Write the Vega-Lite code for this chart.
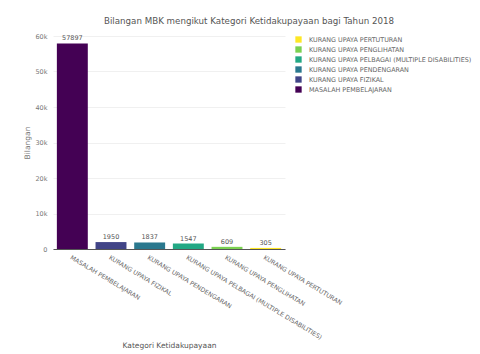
{
  "$schema": "https://vega.github.io/schema/vega-lite/v6.json",
  "width": 232,
  "height": 213,
  "autosize": {"type": "none"},
  "padding": {"left": 53, "top": 36, "right": 195, "bottom": 105},
  "background": "white",
  "title": {
    "text": "Bilangan MBK mengikut Kategori Ketidakupayaan bagi Tahun 2018",
    "anchor": "start",
    "dx": 80,
    "offset": 7,
    "font": "DejaVu Sans",
    "fontSize": 8.7,
    "fontWeight": "normal",
    "color": "#555555"
  },
  "data": {
    "values": [
      {"kategori": "MASALAH PEMBELAJARAN", "bilangan": 57897},
      {"kategori": "KURANG UPAYA FIZIKAL", "bilangan": 1950},
      {"kategori": "KURANG UPAYA PENDENGARAN", "bilangan": 1837},
      {"kategori": "KURANG UPAYA PELBAGAI (MULTIPLE DISABILITIES)", "bilangan": 1547},
      {"kategori": "KURANG UPAYA PENGLIHATAN", "bilangan": 609},
      {"kategori": "KURANG UPAYA PERTUTURAN", "bilangan": 305}
    ]
  },
  "encoding": {
    "x": {
      "field": "kategori",
      "type": "nominal",
      "sort": ["MASALAH PEMBELAJARAN", "KURANG UPAYA FIZIKAL", "KURANG UPAYA PENDENGARAN", "KURANG UPAYA PELBAGAI (MULTIPLE DISABILITIES)", "KURANG UPAYA PENGLIHATAN", "KURANG UPAYA PERTUTURAN"],
      "scale": {"paddingInner": 0.2, "paddingOuter": 0.1},
      "axis": {
        "title": "Kategori Ketidakupayaan",
        "labelAngle": 31,
        "labelAlign": "left",
        "labelBaseline": "top",
        "labelFontSize": 6.2,
        "labelFont": "DejaVu Sans",
        "labelColor": "#666666",
        "labelLimit": 300,
        "labelPadding": 5,
        "labelOverlap": false,
        "ticks": false,
        "domainColor": "#555555",
        "titleFont": "DejaVu Sans",
        "titleFontSize": 7.5,
        "titleFontWeight": "normal",
        "titleColor": "#555555",
        "titlePadding": 1
      }
    },
    "y": {
      "field": "bilangan",
      "type": "quantitative",
      "scale": {"domain": [0, 60000]},
      "axis": {
        "title": "Bilangan",
        "values": [0, 10000, 20000, 30000, 40000, 50000, 60000],
        "labelExpr": "datum.value == 0 ? '0' : format(datum.value / 1000, 'd') + 'k'",
        "labelOverlap": false,
        "labelFontSize": 6.5,
        "labelFont": "DejaVu Sans",
        "labelColor": "#777777",
        "domain": false,
        "ticks": false,
        "labelPadding": 6,
        "gridColor": "#f0f0f0",
        "titleFont": "DejaVu Sans",
        "titleFontSize": 7.5,
        "titleFontWeight": "normal",
        "titleColor": "#777777",
        "titlePadding": 3
      }
    }
  },
  "layer": [
    {
      "mark": {"type": "bar"},
      "encoding": {
        "color": {
          "field": "kategori",
          "type": "nominal",
          "scale": {
            "domain": ["KURANG UPAYA PERTUTURAN", "KURANG UPAYA PENGLIHATAN", "KURANG UPAYA PELBAGAI (MULTIPLE DISABILITIES)", "KURANG UPAYA PENDENGARAN", "KURANG UPAYA FIZIKAL", "MASALAH PEMBELAJARAN"],
            "range": ["#fde725", "#7ad151", "#22a884", "#2a788e", "#414487", "#440154"]
          },
          "legend": {
            "title": null,
            "orient": "right",
            "offset": 10,
            "symbolType": "square",
            "symbolSize": 40,
            "symbolStrokeWidth": 0,
            "labelFont": "DejaVu Sans",
            "labelFontSize": 6.4,
            "labelColor": "#666666",
            "labelLimit": 300,
            "labelOffset": 7,
            "rowPadding": 3,
            "padding": 0
          }
        }
      }
    },
    {
      "mark": {"type": "text", "dy": -2, "baseline": "bottom", "font": "DejaVu Sans", "fontSize": 6.5, "color": "#555555"},
      "encoding": {"text": {"field": "bilangan", "type": "quantitative"}}
    }
  ],
  "config": {"view": {"stroke": null}}
}
